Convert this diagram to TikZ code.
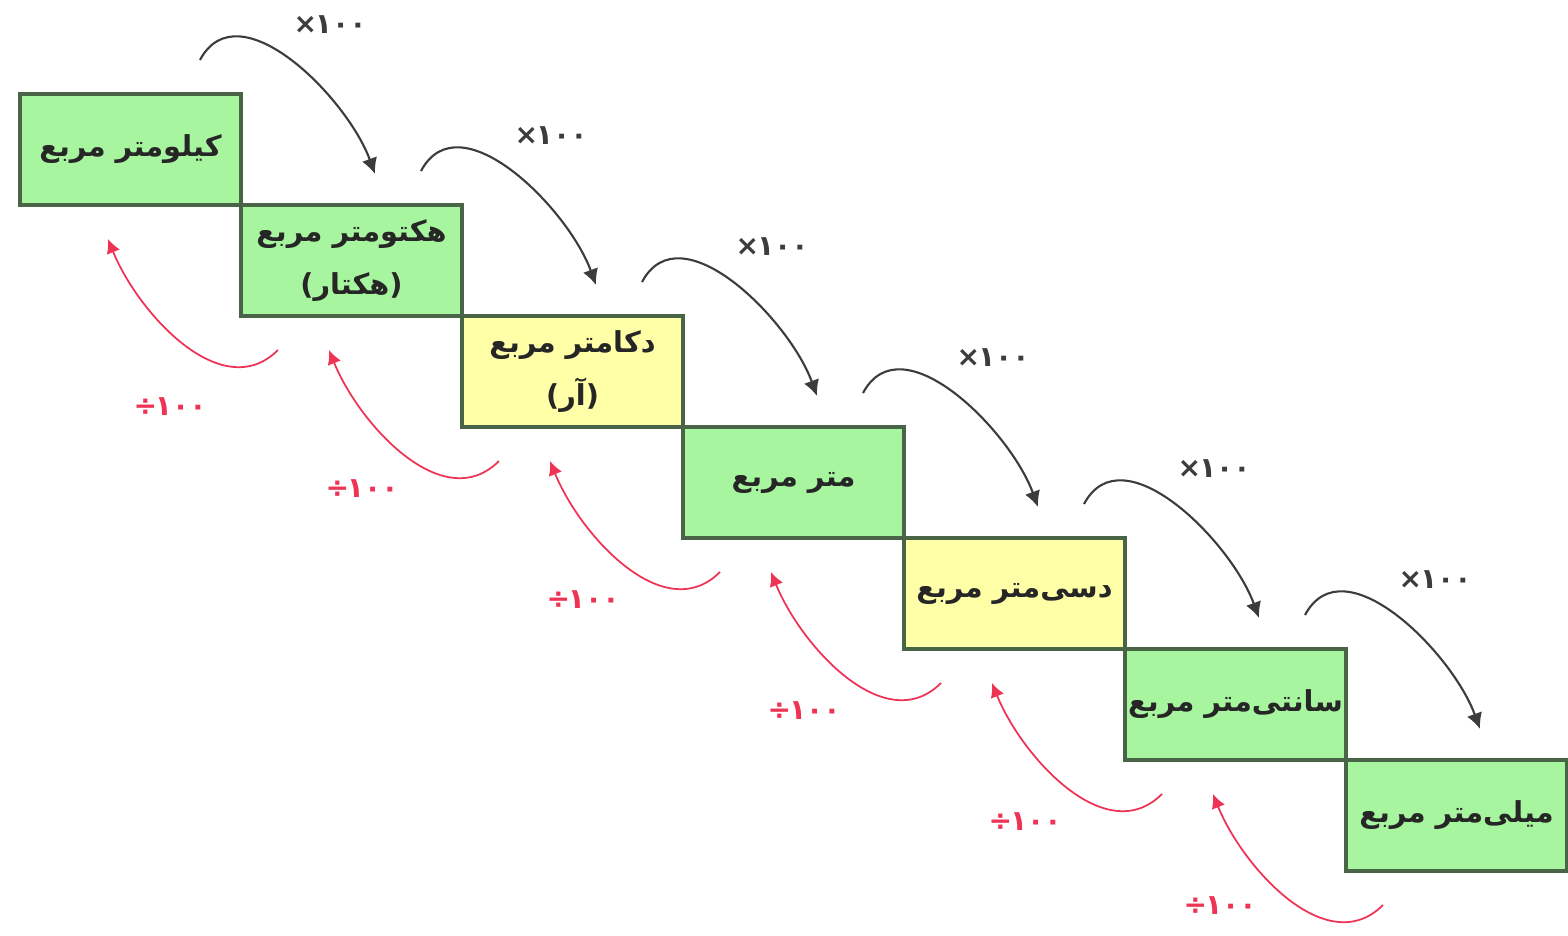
\documentclass[tikz,border=0pt]{standalone}
\usepackage{fontspec}
\usetikzlibrary{arrows.meta}
\usetikzlibrary{positioning}
\usetikzlibrary{calc}
\TeXXeTstate=1
\newfontfamily\arabicfont[Script=Arabic]{DejaVu Sans}
\definecolor{boxgreen}{HTML}{A8F5A0}
\definecolor{boxyellow}{HTML}{FFFFA8}
\definecolor{boxline}{HTML}{4A6448}
\definecolor{mulcolor}{HTML}{3C3C3C}
\definecolor{divcolor}{HTML}{EE3355}

\tikzset{
  unitbox/.style={draw=boxline, line width=1pt, minimum width=2.21cm, minimum height=1.11cm,
    inner sep=0pt, outer sep=0pt, align=center, text=black!85,
    font=\arabicfont\bfseries\fontsize{8.2}{15}\selectfont},
  greenbox/.style={unitbox, fill=boxgreen},
  yellowbox/.style={unitbox, fill=boxyellow},
  mularrow/.style={mulcolor, line width=0.6pt, -{Latex[length=4.5pt,width=4.5pt]}},
  divarrow/.style={divcolor, line width=0.5pt, -{Latex[length=4pt,width=4pt]}},
  mullabel/.style={text=mulcolor, font=\arabicfont\bfseries\fontsize{8}{10}\selectfont},
  divlabel/.style={text=divcolor, font=\arabicfont\bfseries\fontsize{8}{10}\selectfont}
}

\begin{document}
\begin{tikzpicture}
\useasboundingbox (0,0) rectangle (15.68,9.35);

% the staircase of units
\node[greenbox, anchor=north west] (km) at (0.20,8.41) {\beginR کیلومتر مربع\endR};
\node[greenbox, anchor=north west] (hm) at (km.south east) {\beginR هکتومتر مربع\endR\\\beginR(هکتار)\endR};
\node[yellowbox, anchor=north west] (dam) at (hm.south east) {\beginR دکامتر مربع\endR\\\beginR(آر)\endR};
\node[greenbox, anchor=north west] (m) at (dam.south east) {\beginR متر مربع\endR};
\node[yellowbox, anchor=north west] (dm) at (m.south east) {\beginR دسی‌متر مربع\endR};
\node[greenbox, anchor=north west] (cm) at (dm.south east) {\beginR سانتی‌متر مربع\endR};
\node[greenbox, anchor=north west] (mm) at (cm.south east) {\beginR میلی‌متر مربع\endR};

% x100 going down, /100 going up
\foreach \a/\b/\dx/\dy in {km/hm/-0.71/-0.91, hm/dam/-1.0/-0.62, dam/m/-1.0/-0.62,
                           m/dm/-1.0/-0.62, dm/cm/-1.0/-0.62, cm/mm/-1.26/-0.35}
{
  \coordinate (\a-up) at ($(\a.north east)+(-0.41,0.34)$);
  \coordinate (\b-top) at ($(\b.north west)+(1.34,0.31)$);
  \draw[mularrow] (\a-up) to[out=62,in=110] (\b-top);
  \node[mullabel] (\a-mul) at ($(\a.north east)+(0.89,0.69)$) {×\kern-0.6pt۱۰۰};
  \coordinate (\b-low) at ($(\b.south west)+(0.37,-0.34)$);
  \coordinate (\a-bot) at ($(\a.south west)+(0.88,-0.34)$);
  \draw[divarrow] (\b-low) to[out=-135,in=-68] (\a-bot);
  \node[divlabel] (\b-div) at ($(\b.south west)+(\dx,\dy)$) {÷\kern-0.6pt۱۰۰};
}
\end{tikzpicture}
\end{document}
